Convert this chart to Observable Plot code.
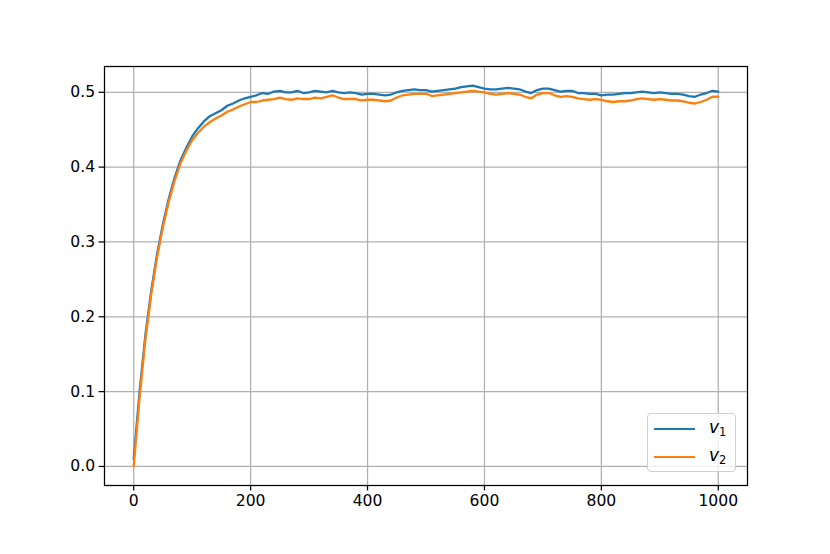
<!DOCTYPE html>
<html>
<head>
<meta charset="utf-8">
<script src="https://cdn.jsdelivr.net/npm/d3@7"></script>
<script src="https://cdn.jsdelivr.net/npm/@observablehq/plot@0.6"></script>
<style>
  html, body { margin: 0; padding: 0; background: #fff; }
  #wrap { position: relative; width: 830px; height: 554px; }
  #legend {
    position: absolute; left: 647px; top: 413px; width: 89px; height: 59px;
    box-sizing: border-box; border: 1.2px solid #d0d0d0; border-radius: 4px;
    background: rgba(255,255,255,0.8);
    font-family: "DejaVu Sans", sans-serif; font-size: 15.6px; color: #000;
  }
  .row { position: absolute; left: 6px; height: 20px; display: flex; align-items: center; }
  .sw { width: 41px; height: 0; border-top: 2.4px solid; margin-right: 14px; }
  .lab { font-style: italic; font-size: 17px; line-height: 1; }
  .lab sub { font-style: normal; font-size: 11.5px; vertical-align: -3px; }
</style>
</head>
<body>
<div id="wrap">
  <div id="chart"></div>
  <div id="legend">
    <div class="row" style="top:5px"><div class="sw" style="border-color:#1f77b4"></div><span class="lab">v<sub>1</sub></span></div>
    <div class="row" style="top:33px"><div class="sw" style="border-color:#ff7f0e"></div><span class="lab">v<sub>2</sub></span></div>
  </div>
</div>
<script>
const steps = [0,10,20,30,40,50,60,70,80,90,100,110,120,130,140,150,160,170,180,190,200,
  210,220,230,240,250,260,270,280,290,300,310,320,330,340,350,360,370,380,390,400,
  410,420,430,440,450,460,470,480,490,500,510,520,530,540,550,560,570,580,590,600,
  610,620,630,640,650,660,670,680,690,700,710,720,730,740,750,760,770,780,790,800,
  810,820,830,840,850,860,870,880,890,900,910,920,930,940,950,960,970,980,990,1000];

const v1 = [0.010,0.100,0.176,0.235,0.284,0.324,0.358,0.386,0.409,0.426,0.441,
  0.452,0.461,0.468,0.472,0.476,0.482,0.485,0.489,0.492,0.494,
  0.496,0.499,0.498,0.501,0.502,0.500,0.500,0.502,0.499,0.500,
  0.502,0.501,0.500,0.502,0.500,0.499,0.500,0.499,0.497,0.498,
  0.498,0.497,0.496,0.497,0.500,0.502,0.503,0.504,0.503,0.503,
  0.501,0.502,0.503,0.504,0.505,0.507,0.508,0.509,0.507,0.505,
  0.504,0.504,0.505,0.506,0.505,0.504,0.501,0.499,0.503,0.505,
  0.505,0.503,0.501,0.502,0.502,0.499,0.499,0.498,0.498,0.496,
  0.497,0.497,0.498,0.499,0.499,0.500,0.501,0.500,0.499,0.500,
  0.499,0.498,0.498,0.497,0.495,0.494,0.497,0.499,0.502,0.501];

const v2 = [0.000,0.092,0.170,0.230,0.280,0.320,0.354,0.382,0.405,0.422,0.436,
  0.446,0.454,0.460,0.465,0.469,0.474,0.477,0.481,0.484,0.487,
  0.487,0.489,0.490,0.491,0.493,0.491,0.490,0.492,0.491,0.491,
  0.493,0.492,0.494,0.496,0.493,0.491,0.491,0.491,0.489,0.490,
  0.490,0.489,0.488,0.489,0.493,0.496,0.497,0.498,0.498,0.498,
  0.495,0.496,0.497,0.498,0.499,0.500,0.501,0.502,0.501,0.500,
  0.498,0.497,0.498,0.499,0.498,0.497,0.494,0.492,0.497,0.499,
  0.499,0.496,0.494,0.495,0.494,0.492,0.491,0.490,0.491,0.490,
  0.488,0.487,0.488,0.488,0.489,0.491,0.492,0.491,0.490,0.491,
  0.490,0.489,0.489,0.488,0.486,0.485,0.487,0.490,0.494,0.494];

const seriesNames = ["v1", "v2"];
const seriesColors = ["#1f77b4", "#ff7f0e"];
const xTicks = [0, 200, 400, 600, 800, 1000];
const yTicks = [0.0, 0.1, 0.2, 0.3, 0.4, 0.5];

const data = [];
steps.forEach((t, i) => data.push({t, v: v1[i], s: "v1"}));
steps.forEach((t, i) => data.push({t, v: v2[i], s: "v2"}));

const chart = Plot.plot({
  width: 830,
  height: 554,
  marginLeft: 104,
  marginRight: 83,
  marginTop: 66,
  marginBottom: 69,
  style: { fontFamily: "DejaVu Sans, sans-serif", fontSize: "15.6px", color: "#000", background: "#fff" },
  x: { domain: [-50, 1050], label: null },
  y: { domain: [-0.02545, 0.53445], label: null },
  color: { domain: seriesNames, range: seriesColors },
  marks: [
    Plot.gridX(xTicks, { stroke: "#b0b0b0", strokeOpacity: 1, strokeWidth: 1.25 }),
    Plot.gridY(yTicks, { stroke: "#b0b0b0", strokeOpacity: 1, strokeWidth: 1.25 }),
    Plot.lineY(data, { x: "t", y: "v", z: "s", stroke: "s", strokeWidth: 2.3, strokeLinejoin: "round" }),
    Plot.frame({ stroke: "#000", strokeWidth: 1.25 }),
    Plot.axisX(xTicks, { tickSize: 5.4, tickPadding: 4, tickFormat: d3.format("d"), strokeWidth: 1.25, label: null }),
    Plot.axisY(yTicks, { tickSize: 5.4, tickPadding: 4, tickFormat: d3.format(".1f"), strokeWidth: 1.25, label: null })
  ]
});
document.getElementById("chart").appendChild(chart);
</script>
</body>
</html>
